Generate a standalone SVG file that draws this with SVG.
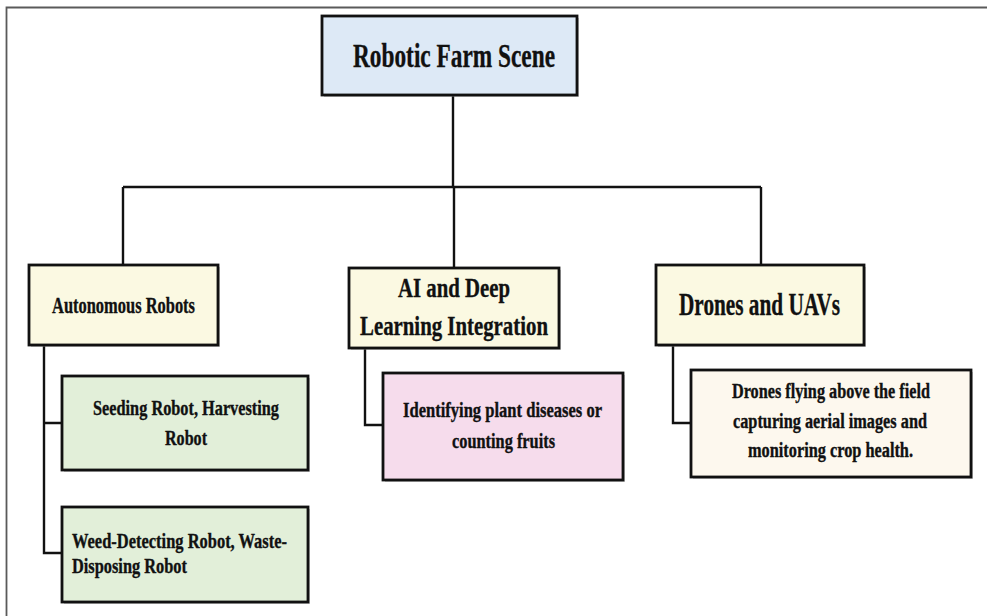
<svg xmlns="http://www.w3.org/2000/svg" width="987" height="616" viewBox="0 0 987 616">
<style>
.box{stroke:#111;stroke-width:2.8}
.t{font-family:"Liberation Serif","Times New Roman","DejaVu Serif",serif;font-weight:bold;fill:#111;stroke:#111;stroke-width:0.35}
.c{fill:none;stroke:#111;stroke-width:2.4}
.sh{fill:#9a9a9a;opacity:0.5}
</style>
<rect width="987" height="616" fill="#fff"/>
<path d="M6.5 616 V7.5 H987" fill="none" stroke="#5a5a5a" stroke-width="1.8"/>
<g id="connectors">
<path class="c" d="M453 95 V187 M123 187 H761 M123 187 V265 M454 187 V268 M761 187 V265"/>
<path class="c" d="M44 345 V553 H62 M44 423 H62"/>
<path class="c" d="M365 348 V425 H383"/>
<path class="c" d="M673 345 V423 H691"/>
</g>
<g id="root">
<rect class="sh" x="324" y="18" width="255" height="79"/>
<rect class="box" x="322" y="16" width="255" height="79" fill="#dde9f6"/>
<text class="t" x="353" y="67" font-size="33" textLength="202" lengthAdjust="spacingAndGlyphs">Robotic Farm Scene</text>
</g>
<g id="autonomous">
<rect class="sh" x="31" y="267" width="189" height="80"/>
<rect class="box" x="29" y="265" width="189" height="80" fill="#fbf9e2"/>
<text class="t" x="52" y="313" font-size="23" textLength="143" lengthAdjust="spacingAndGlyphs">Autonomous Robots</text>
</g>
<g id="ai">
<rect class="sh" x="351" y="270" width="210" height="80"/>
<rect class="box" x="349" y="268" width="210" height="80" fill="#fbf9e2"/>
<text class="t" x="398" y="297" font-size="27" textLength="112" lengthAdjust="spacingAndGlyphs">AI and Deep</text>
<text class="t" x="360" y="335" font-size="27" textLength="188" lengthAdjust="spacingAndGlyphs">Learning Integration</text>
</g>
<g id="drones">
<rect class="sh" x="658" y="267" width="208" height="80"/>
<rect class="box" x="656" y="265" width="208" height="80" fill="#fbf9e2"/>
<text class="t" x="679" y="315" font-size="31" textLength="161" lengthAdjust="spacingAndGlyphs">Drones and UAVs</text>
</g>
<g id="seeding">
<rect class="sh" x="64" y="378" width="246" height="94"/>
<rect class="box" x="62" y="376" width="246" height="94" fill="#e2efd9"/>
<text class="t" x="93" y="415" font-size="21" textLength="186" lengthAdjust="spacingAndGlyphs">Seeding Robot, Harvesting</text>
<text class="t" x="165" y="445" font-size="21" textLength="42" lengthAdjust="spacingAndGlyphs">Robot</text>
</g>
<g id="weed">
<rect class="sh" x="64" y="509" width="246" height="95"/>
<rect class="box" x="62" y="507" width="246" height="95" fill="#e2efd9"/>
<text class="t" x="72" y="548" font-size="21" textLength="215" lengthAdjust="spacingAndGlyphs">Weed-Detecting Robot, Waste-</text>
<text class="t" x="72" y="573" font-size="21" textLength="115" lengthAdjust="spacingAndGlyphs">Disposing Robot</text>
</g>
<g id="identifying">
<rect class="sh" x="385" y="375" width="240" height="107"/>
<rect class="box" x="383" y="373" width="240" height="107" fill="#f6dcec"/>
<text class="t" x="403" y="417" font-size="21" textLength="199" lengthAdjust="spacingAndGlyphs">Identifying plant diseases or</text>
<text class="t" x="452" y="448" font-size="21" textLength="103" lengthAdjust="spacingAndGlyphs">counting fruits</text>
</g>
<g id="drone-detail">
<rect class="sh" x="693" y="372" width="280" height="107"/>
<rect class="box" x="691" y="370" width="280" height="107" fill="#fdf8ee"/>
<text class="t" x="732" y="398" font-size="20" textLength="198" lengthAdjust="spacingAndGlyphs">Drones flying above the field</text>
<text class="t" x="733" y="428" font-size="20" textLength="194" lengthAdjust="spacingAndGlyphs">capturing aerial images and</text>
<text class="t" x="748" y="457" font-size="20" textLength="165" lengthAdjust="spacingAndGlyphs">monitoring crop health.</text>
</g>
</svg>
